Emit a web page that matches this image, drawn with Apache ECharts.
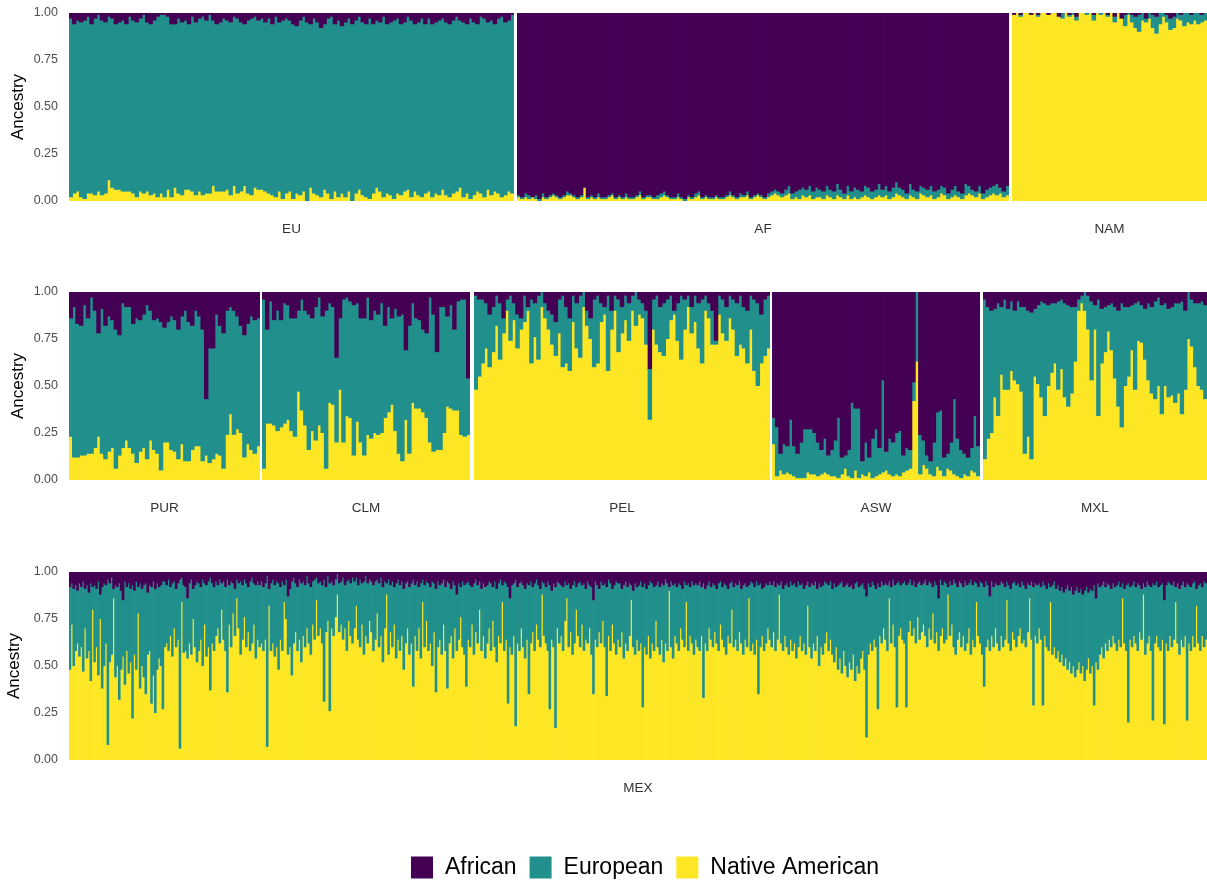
<!DOCTYPE html>
<html><head><meta charset="utf-8">
<script src="https://cdn.jsdelivr.net/npm/echarts@6/dist/echarts.min.js"></script>
<style>html,body{margin:0;padding:0;background:#fff}#c{width:1207px;height:880px}</style>
</head><body><div id="c"></div>
<script>
// ---- data: ancestry proportions in percent (African, Native American); European = remainder ----
const POPULATIONS = ['EU','AF','NAM','PUR','CLM','PEL','ASW','MXL','MEX'];
const COMPONENTS = ['African','European','Native American'];
const Y_TICKS = [0, 25, 50, 75, 100];

const EU_AFR = [3,6,4,5,4,2,6,3,1,4, 5,2,3,6,5,4,6,2,4,5, 3,1,5,6,4,2,1,1,2,6, 6,3,5,4,6,2,5,3,2,4, 1,4,6,5,3,4,5,2,3,5, 6,4,3,2,4,3,5,3,6,2, 5,4,3,4,6,7,4,2,5,6, 3,5,8,6,3,2,6,4,7,5, 3,6,4,2,5,6,3,6,4,5, 2,6,5,4,3,6,5,2,4,6, 5,3,6,3,6,5,4,3,5,6, 4,2,4,5,6,3,5,6,2,3, 5,4,6,3,2,5,4,1];
const EU_NAT = [2,4,5,2,1,4,4,3,5,3, 4,11,7,6,6,5,5,5,4,2, 5,4,5,3,4,2,4,2,6,2, 7,4,3,6,6,5,3,5,3,4, 4,8,5,5,5,6,3,8,4,5, 8,4,3,7,6,6,5,4,3,2, 5,1,4,5,1,4,3,5,0,7, 4,3,2,6,4,1,5,2,4,2, 5,0,4,6,3,2,1,4,7,5, 2,4,3,1,4,3,5,6,2,5, 3,2,4,5,2,4,3,6,3,2, 4,5,7,2,4,1,3,5,4,2, 6,3,5,4,2,3,5,4];

const AF_AFR = [97,98,96,97,98,97,99,96,98,97, 96,97,98,97,95,96,97,98,97,93, 98,97,98,96,98,98,97,96,98,97, 98,96,98,98,97,95,98,97,97,98, 97,96,95,97,98,98,96,98,99,97, 98,96,95,98,97,98,98,97,98,98, 97,95,97,98,96,97,95,98,97,96, 97,98,96,95,94,95,96,94,92,96, 95,94,93,94,92,95,93,94,95,92, 94,95,91,94,96,92,95,93,94,95, 92,93,95,94,91,94,92,95,93,90, 93,94,96,91,94,95,92,93,94,92, 95,94,92,93,96,94,92,95,96,91, 92,94,95,92,96,94,93,92,91,93, 95,92];
const AF_NAT = [2,1,2,1,2,1,0,2,1,2, 3,2,1,2,3,3,2,1,2,7, 1,2,1,2,1,1,2,3,1,2, 1,2,1,1,2,3,1,2,2,1, 1,2,3,2,1,1,2,1,0,2, 1,2,3,1,2,1,1,2,1,1, 2,3,2,1,2,2,3,1,2,3, 2,1,2,3,4,3,2,3,4,1, 2,1,3,2,3,1,2,2,1,3, 2,1,3,2,1,3,1,2,1,2, 3,2,1,2,3,2,3,1,2,4, 3,2,1,3,2,1,4,3,2,3, 1,2,4,3,1,2,3,2,1,3, 4,3,2,4,1,2,3,4,3,4, 2,3];

const NAM_AFR = [1,0,1,0,0,1,0,1,0,0, 1,0,0,2,0,0,1,0,2,0, 0,0,0,1,0,0,0,1,0,2, 0,3,1,0,1,2,1,0,3,0, 1,2,0,0,1,3,2,0,1,0, 0,1,0,0,1,0];
const NAM_NAT = [99,100,98,100,100,99,100,98,100,100, 99,100,100,98,97,100,98,99,96,100, 100,99,100,96,100,99,100,98,100,95, 100,97,93,99,95,92,90,96,95,97, 92,89,94,98,95,91,92,97,96,93, 95,94,96,94,95,96];

const PUR_AFR = [14,8,17,18,7,14,3,10,22,9, 18,13,15,20,23,6,8,8,17,14, 15,12,7,10,15,14,16,19,16,13, 15,20,13,10,16,18,10,13,20,57, 30,30,12,18,22,10,8,10,13,18, 23,17,13,15,14];
const PUR_NAT = [23,12,12,13,13,14,14,17,23,14, 11,15,17,6,13,17,21,17,14,9, 15,17,11,21,16,14,5,20,20,16, 15,11,19,10,10,16,18,18,10,13, 9,11,14,13,6,24,35,24,27,25, 12,19,16,14,18];

const CLM_AFR = [4,20,5,15,10,15,6,7,14,14, 10,4,10,12,14,8,3,13,10,6, 8,35,14,4,3,5,7,6,14,14, 3,15,10,12,6,18,8,14,9,13, 12,31,18,6,14,15,20,22,3,12, 32,8,8,13,7,20,5,4,4,46];
const CLM_NAT = [6,30,30,29,26,28,30,32,26,23, 47,37,29,16,26,21,29,25,6,41, 40,20,48,20,34,33,13,31,20,13, 24,22,25,24,25,33,36,40,26,14, 10,32,14,41,38,38,36,33,20,15, 16,16,25,39,38,37,37,24,23,24];

const PEL_AFR = [2,4,4,6,12,8,2,6,14,4, 2,6,12,14,2,8,4,6,2,0, 6,10,12,16,4,2,8,14,2,6, 2,0,10,14,4,2,6,8,2,10, 2,4,8,2,6,2,0,4,6,10, 41,4,2,8,6,4,2,10,6,2, 4,2,8,2,6,4,2,6,10,26, 2,4,8,2,4,6,2,8,10,2, 4,6,12,4,2];
const PEL_NAT = [48,55,62,70,60,68,82,64,78,90, 74,85,70,80,84,90,62,76,64,92, 86,80,72,66,78,60,62,58,84,70, 65,92,82,75,60,62,84,88,58,80, 90,68,78,85,74,90,82,88,86,72, 32,80,72,68,66,75,85,88,74,64, 80,92,78,84,70,62,90,86,72,72, 88,78,74,86,80,66,72,70,62,80, 58,50,62,66,70];

const ASW_AFR = [67,72,86,81,82,68,82,86,80,73, 73,73,75,80,84,78,87,84,79,67, 88,87,84,59,62,62,90,80,88,78, 73,83,47,85,78,80,75,74,87,83, 84,48,0,76,79,87,90,80,64,63, 88,86,80,57,78,84,86,88,83,66, 82];
const ASW_NAT = [19,2,5,3,4,3,2,1,1,1, 4,3,3,2,3,4,3,2,2,1, 3,6,2,1,5,1,3,2,4,1, 2,3,4,5,3,2,3,2,4,5, 6,42,63,3,8,6,3,2,7,5, 2,6,5,3,2,1,3,2,5,4, 2];

const MXL_AFR = [4,8,10,9,6,8,4,9,5,10, 5,8,8,10,11,9,7,5,6,7, 6,6,5,4,6,7,8,8,4,2, 0,2,5,7,4,9,8,7,6,8, 10,6,8,8,7,6,5,7,9,6, 8,5,3,7,6,9,8,6,6,5, 10,0,4,6,6,5,7];
const MXL_NAT = [11,22,25,44,34,56,48,48,58,53, 51,47,14,23,11,55,51,44,34,50, 57,62,48,59,44,39,46,63,90,94, 90,80,53,80,34,62,68,79,69,54, 39,28,50,55,69,48,74,73,64,53, 46,43,50,35,50,44,45,41,46,35, 48,75,71,60,50,48,43];

const MEX_AFR = [8,6,9,7,10,6,8,5,9,7, 11,6,8,7,9,5,12,8,6,7, 4,6,3,9,7,8,6,10,15,5, 8,6,9,7,10,5,8,6,9,7, 6,11,7,8,5,9,6,8,7,5,
 5,7,4,8,6,5,9,6,4,3, 7,8,14,6,4,9,7,5,6,8, 4,6,7,5,3,6,8,5,7,4, 6,5,8,4,7,5,6,9,4,6, 5,7,4,6,8,5,3,6,7,5,
 7,5,8,6,2,9,6,4,7,5, 6,8,5,7,4,13,9,5,3,6, 8,4,6,5,7,2,6,8,5,4, 3,6,5,7,4,8,2,6,5,7, 4,1,6,5,3,7,5,4,6,3,
 5,3,7,4,6,5,2,6,4,5, 7,5,4,6,3,8,5,6,4,7, 5,8,6,4,7,5,9,6,5,8, 6,4,7,5,8,6,4,7,5,6, 8,5,6,9,5,7,6,4,8,5,
 6,9,5,7,12,6,8,5,7,6, 5,7,8,6,4,7,5,9,6,8, 7,5,6,8,5,9,6,4,7,5, 6,8,14,7,6,4,8,6,5,7, 9,6,7,5,8,6,4,7,9,5,
 6,8,5,7,10,6,8,5,6,7, 8,5,7,6,9,7,5,8,6,5, 7,6,9,5,7,8,15,5,7,9, 5,7,6,8,4,6,9,7,5,6, 6,9,7,5,8,6,7,10,6,8,
 7,5,8,6,9,7,5,6,8,7, 5,8,6,7,4,6,8,5,7,6, 8,6,7,9,5,7,6,8,5,7, 6,7,5,8,6,9,7,5,8,6, 7,9,6,5,8,6,7,9,6,5,
 8,6,7,5,9,7,6,8,7,5, 6,8,5,7,6,9,8,6,7,5, 7,5,8,6,7,5,9,7,6,8, 5,7,6,8,5,7,6,9,7,5, 8,6,7,5,9,6,8,7,5,6,
 7,5,9,6,8,7,6,5,8,7, 6,8,7,9,6,5,8,7,6,9, 13,6,8,5,7,9,6,8,5,7, 6,7,5,8,4,7,6,5,7,6, 5,7,6,4,7,5,8,6,5,7,
 6,4,7,5,6,8,5,7,14,4, 7,5,6,8,5,7,4,6,8,5, 6,8,5,7,6,4,7,5,6,8, 5,6,8,5,7,13,5,8,6,7, 7,5,6,8,5,7,9,6,5,7,
 6,8,5,7,9,6,7,5,8,6, 7,6,8,5,7,9,6,8,7,5, 9,7,10,8,11,9,7,10,8,12, 10,8,11,9,12,10,8,11,9,10, 7,14,6,8,7,5,8,6,7,9,
 6,8,7,5,8,6,9,7,6,8, 7,5,8,6,7,9,6,8,5,7, 8,6,7,5,8,7,6,15,7,5, 6,7,5,8,6,9,7,5,8,6, 7,8,6,5,9,7,6,8,5,6];
const MEX_NAT = [48,72,50,58,62,55,60,47,70,54, 58,42,80,52,60,45,75,38,50,62, 8,52,56,86,44,50,32,48,55,40, 58,46,52,22,56,48,78,38,50,44, 35,56,58,30,45,25,48,54,50,27,
 60,62,58,66,55,70,60,64,6,84, 57,58,54,62,56,75,60,52,58,64, 50,72,55,60,37,62,58,66,70,62, 80,64,58,36,72,60,78,66,86,70, 56,64,76,60,68,58,62,72,54,64,
 60,62,58,64,7,82,58,62,55,60, 48,64,58,84,75,56,60,45,62,68, 58,64,52,66,60,70,62,56,72,64, 85,66,70,62,31,68,74,26,70,66, 76,88,68,72,64,70,58,74,66,62,
 70,82,64,60,72,56,66,62,74,68, 58,64,78,60,66,52,70,88,56,68, 60,72,54,64,58,66,48,62,70,56, 62,39,66,58,70,54,84,60,74,58, 62,50,68,36,60,64,56,72,58,38,
 62,66,54,70,58,64,76,60,56,39, 64,60,72,56,68,62,80,58,66,54, 62,70,58,74,60,52,66,62,84,58, 64,30,60,56,66,18,62,58,70,60, 54,64,35,62,68,58,72,64,60,88,
 66,62,58,27,64,60,17,70,62,66, 58,74,86,60,68,56,62,80,66,60, 72,58,64,62,70,56,35,64,60,68, 62,74,60,34,66,58,72,62,56,64, 60,68,54,62,58,66,85,60,56,64,
 58,62,28,60,56,66,54,62,58,74, 60,56,64,52,62,58,90,60,54,66, 62,58,70,64,60,84,58,66,62,56, 64,60,58,66,33,62,58,70,64,60, 68,62,58,72,64,60,56,66,62,80,
 60,64,58,68,62,56,64,60,86,58, 62,56,64,35,60,66,58,62,70,64, 60,68,58,64,88,62,58,66,60,56, 64,58,62,54,60,66,58,62,56,82, 60,54,62,58,66,50,60,56,62,68,
 58,64,56,52,60,48,54,46,58,50, 44,52,48,56,42,50,46,54,58,48, 12,56,62,58,64,60,27,66,62,70, 64,58,86,62,72,60,28,66,70,64, 62,28,68,74,66,70,62,76,64,68,
 72,66,60,70,64,78,62,68,58,66, 70,62,64,88,66,72,60,56,64,68, 60,66,58,62,70,56,64,60,84,66, 62,56,39,60,64,58,66,60,70,62, 58,66,60,64,85,62,58,68,64,60,
 66,70,62,64,60,68,86,64,29,66, 62,70,64,29,66,60,58,84,56,60, 54,58,52,56,50,54,48,52,46,50, 44,48,52,46,50,42,48,54,46,50, 29,52,48,56,60,54,62,58,64,60,
 66,62,58,64,60,86,62,58,20,64, 60,66,62,58,68,64,88,56,62,66, 58,21,62,66,60,58,64,19,62,58, 66,60,64,84,62,56,64,60,66,21, 62,58,66,60,82,62,58,66,60,64];

// ---- layout / style (not data) ----
const COLORS = {'African':'#440154','European':'#21908C','Native American':'#FDE725'};
const FONT = 'Liberation Sans, Arial, Helvetica, sans-serif';
const ROW_TOPS = [13, 292, 572];
const PANEL_H = 188;
const PANELS = [
  {pop:'EU',  afr:EU_AFR,  nat:EU_NAT,  row:0, left:69,   width:445, pad:0.5},
  {pop:'AF',  afr:AF_AFR,  nat:AF_NAT,  row:0, left:517,  width:492, pad:0.5},
  {pop:'NAM', afr:NAM_AFR, nat:NAM_NAT, row:0, left:1012, width:195, pad:0.5},
  {pop:'PUR', afr:PUR_AFR, nat:PUR_NAT, row:1, left:69,   width:191, pad:0.5},
  {pop:'CLM', afr:CLM_AFR, nat:CLM_NAT, row:1, left:262,  width:208, pad:0.5},
  {pop:'PEL', afr:PEL_AFR, nat:PEL_NAT, row:1, left:474,  width:296, pad:0.5},
  {pop:'ASW', afr:ASW_AFR, nat:ASW_NAT, row:1, left:772,  width:208, pad:0.5},
  {pop:'MXL', afr:MXL_AFR, nat:MXL_NAT, row:1, left:983,  width:224, pad:0.5},
  {pop:'MEX', afr:MEX_AFR, nat:MEX_NAT, row:2, left:69,   width:1138, pad:0.35}
];

function segmentRenderer(color, pad) {
  return function (params, api) {
    const hi = api.coord([api.value(0), api.value(2)]);
    const lo = api.coord([api.value(0), api.value(1)]);
    const w = api.size([1, 0])[0];
    if (lo[1] - hi[1] <= 0) return null;
    return {
      type:'rect',
      shape:{x: hi[0] - w / 2 - pad, y: hi[1] - 0.5, width: w + 2 * pad, height: lo[1] - hi[1] + 0.5},
      style:{fill: color}
    };
  };
}

const grid = [], xAxis = [], yAxis = [], series = [];
PANELS.forEach((p, k) => {
  const n = Math.min(p.afr.length, p.nat.length);
  const ids = Array.from({length:n}, (_, i) => p.pop + '_' + (i + 1));
  const nat = p.nat.slice(0, n);
  const afr = p.afr.slice(0, n);
  const eur = nat.map((v, i) => Math.max(0, 100 - v - afr[i]));
  const firstInRow = k === 0 || PANELS[k-1].row !== p.row;
  grid.push({left:p.left, top:ROW_TOPS[p.row], width:p.width, height:PANEL_H,
             containLabel:false, outerBoundsMode:'none'});
  xAxis.push({
    gridIndex:k, type:'category', data:ids, boundaryGap:true,
    axisLine:{show:false}, axisTick:{show:false}, axisLabel:{show:false}, splitLine:{show:false},
    name:p.pop, nameLocation:'middle', nameGap:21,
    nameTextStyle:{color:'#333333', fontSize:13.5, fontFamily:FONT}
  });
  yAxis.push({
    gridIndex:k, type:'value', min:Y_TICKS[0], max:Y_TICKS[Y_TICKS.length-1], interval:25,
    show:firstInRow,
    axisLine:{show:false}, axisTick:{show:false}, splitLine:{show:false},
    axisLabel:{color:'#4D4D4D', fontSize:12.5, fontFamily:FONT, margin:11,
      formatter:v => (v/100).toFixed(2)},
    name: firstInRow ? 'Ancestry' : '', nameLocation:'middle', nameRotate:90, nameGap:42,
    nameTextStyle:{color:'#000000', fontSize:17, fontFamily:FONT}
  });
  // stacked segments: Native American (bottom), European, African (top)
  const segs = {
    'Native American': nat.map((v, i) => [i, 0, v]),
    'European': nat.map((v, i) => [i, v, v + eur[i]]),
    'African': nat.map((v, i) => [i, v + eur[i], v + eur[i] + afr[i]])
  };
  ['Native American','European','African'].forEach(name => {
    series.push({
      type:'custom', name, xAxisIndex:k, yAxisIndex:k, clip:true,
      itemStyle:{color:COLORS[name]},
      encode:{x:0, y:[1,2]},
      renderItem: segmentRenderer(COLORS[name], p.pad),
      emphasis:{disabled:true}, silent:true,
      data: segs[name]
    });
  });
});

const chart = echarts.init(document.getElementById('c'), null, {renderer:'canvas'});
chart.setOption({
  animation:false,
  backgroundColor:'#ffffff',
  legend:{
    data:COMPONENTS, left:406, top:851, icon:'rect', itemWidth:22, itemHeight:22, itemGap:13,
    textStyle:{fontSize:23, color:'#000000', fontFamily:FONT, padding:[0,0,0,7]}
  },
  grid, xAxis, yAxis, series
});
</script></body></html>
